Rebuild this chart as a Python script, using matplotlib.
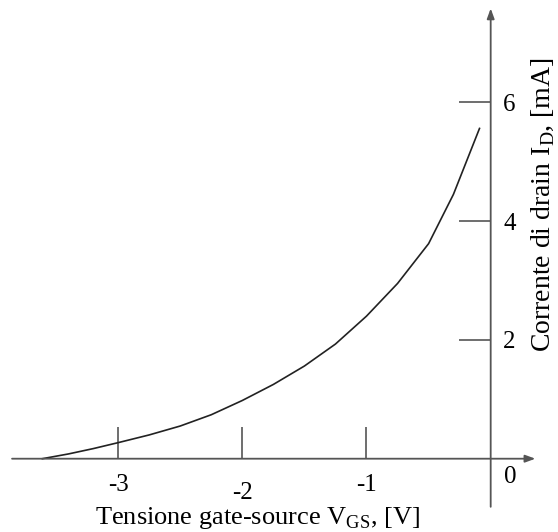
import matplotlib
matplotlib.use("Agg")
import matplotlib.pyplot as plt
import matplotlib.transforms as mtransforms

plt.rcParams['font.family'] = ['Liberation Serif', 'DejaVu Serif']
plt.rcParams['mathtext.fontset'] = 'custom'
plt.rcParams['mathtext.rm'] = 'Liberation Serif'

# transfer characteristic
vgs = [-3.61, -3.4, -3.2, -3.0, -2.75, -2.5, -2.25, -2.0, -1.75, -1.5,
       -1.25, -1.0, -0.75, -0.5, -0.3, -0.09]
id_ma = [0.0, 0.08, 0.17, 0.27, 0.40, 0.55, 0.74, 0.98, 1.25, 1.56,
         1.93, 2.40, 2.95, 3.62, 4.45, 5.56]

x_ticks = [-3, -2, -1]
x_tick_labels = ['-3', '-2', '-1']
y_ticks = [2, 4, 6]
y_tick_labels = ['2', '4', '6']

axis_col = '#555555'

fig = plt.figure(figsize=(5.58, 5.32), dpi=100)
ax = fig.add_axes([0, 0, 1, 1])
ax.set_xlim(-3.951, 0.542)
ax.set_ylim(-1.234, 7.722)

ax.plot(vgs, id_ma, color='#222222', lw=1.2)

# axes with arrow heads
arr = dict(arrowstyle='-|>,head_length=0.6,head_width=0.22', color=axis_col, lw=1.3,
           shrinkA=0, shrinkB=0)
ax.annotate('', xy=(0.36, 0), xytext=(-3.854, 0), arrowprops=arr)
ax.annotate('', xy=(0, 7.58), xytext=(0, -0.81), arrowprops=arr)

for s in ax.spines.values():
    s.set_visible(False)
ax.spines['bottom'].set_position(('data', 0))
ax.spines['right'].set_position(('data', 0))

ax.set_xticks(x_ticks, x_tick_labels)
ax.tick_params(axis='x', direction='in', length=23, width=1.2, color=axis_col,
               labelsize=18, pad=11)
ax.yaxis.tick_right()
ax.set_yticks(y_ticks, y_tick_labels)
ax.tick_params(axis='y', direction='in', length=23, width=1.2, color=axis_col,
               labelsize=18, pad=9)

# the middle label sits lower in the original
for lab in ax.get_xticklabels():
    if lab.get_text() == '-2':
        lab.set_transform(lab.get_transform() +
                          mtransforms.ScaledTranslation(0, -6 / 72, fig.dpi_scale_trans))

ax.text(0.11, -0.12, '0', fontsize=18, ha='left', va='top')

ax.text(-1.88, -1.1, r'Tensione gate-source V$_{\mathrm{GS}}$, [V]', fontsize=19,
        ha='center', va='baseline')
ax.text(0.425, 4.27, r'Corrente di drain I$_{\mathrm{D}}$, [mA]', fontsize=20,
        ha='center', va='center', rotation=90)

fig.savefig('out.png', dpi=100)
